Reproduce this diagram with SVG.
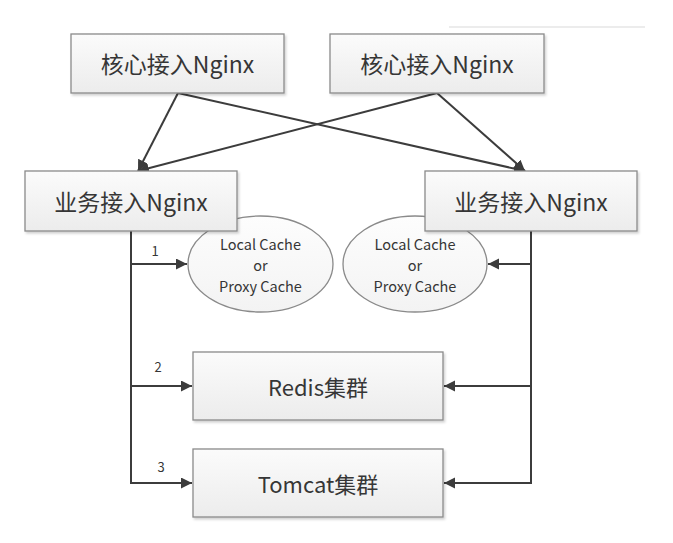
<svg xmlns="http://www.w3.org/2000/svg" width="673" height="543" viewBox="0 0 673 543">
  <style>
    .box { fill: url(#boxGrad); stroke: #8a8a8a; stroke-width: 1.3; filter: url(#shadow); }
    .ell { fill: url(#ellGrad); stroke: #8a8a8a; stroke-width: 1.3; }
    .t { font-family: "Noto Sans CJK SC", "Noto Sans", sans-serif; fill: #363636; text-anchor: middle; dominant-baseline: central; }
    .big { font-size: 23px; }
    .mid { font-size: 22px; }
    .small { font-size: 14.5px; }
    .num { font-size: 13px; }
    .conn { fill: none; stroke: #3c3c3c; stroke-width: 2; }
  </style>
  <defs>
    <linearGradient id="boxGrad" x1="0" y1="0" x2="0" y2="1">
      <stop offset="0" stop-color="#fbfbfb"/>
      <stop offset="1" stop-color="#ececec"/>
    </linearGradient>
    <linearGradient id="ellGrad" x1="0" y1="0" x2="0" y2="1">
      <stop offset="0" stop-color="#fdfdfd"/>
      <stop offset="1" stop-color="#f3f3f3"/>
    </linearGradient>
    <filter id="shadow" x="-10%" y="-10%" width="130%" height="140%">
      <feDropShadow dx="1.5" dy="2" stdDeviation="1.2" flood-color="#000000" flood-opacity="0.18"/>
    </filter>
    <marker id="arrow" markerUnits="userSpaceOnUse" markerWidth="12" markerHeight="12" refX="11" refY="5.5" orient="auto">
      <path d="M0,0 L11,5.5 L0,11 z" fill="#3c3c3c"/>
    </marker>
  </defs>
  <rect width="673" height="543" fill="#ffffff"/>
  <line x1="449" y1="27" x2="645" y2="27" stroke="#e6e6e6" stroke-width="1.5"/>

  <g id="connectors">
    <line class="conn" x1="178" y1="93" x2="138" y2="171" marker-end="url(#arrow)"/>
    <line class="conn" x1="437" y1="93" x2="138" y2="171" marker-end="url(#arrow)"/>
    <line class="conn" x1="178" y1="93" x2="525" y2="171" marker-end="url(#arrow)"/>
    <line class="conn" x1="437" y1="93" x2="525" y2="171" marker-end="url(#arrow)"/>
    <path class="conn" d="M131,231 V483 H192" marker-end="url(#arrow)"/>
    <path class="conn" d="M131,264 H187" marker-end="url(#arrow)"/>
    <path class="conn" d="M131,386 H192" marker-end="url(#arrow)"/>
    <path class="conn" d="M531,231 V483 H444" marker-end="url(#arrow)"/>
    <path class="conn" d="M531,264 H488" marker-end="url(#arrow)"/>
    <path class="conn" d="M531,386 H444" marker-end="url(#arrow)"/>
    <text class="t num" x="155" y="250">1</text>
    <text class="t num" x="158" y="366">2</text>
    <text class="t num" x="161" y="466">3</text>
  </g>

  <g id="cache-left">
    <ellipse class="ell" cx="260.5" cy="264" rx="72.5" ry="48"/>
    <text class="t small" x="260.5" y="243">Local Cache</text>
    <text class="t small" x="260.5" y="264">or</text>
    <text class="t small" x="260.5" y="285">Proxy Cache</text>
  </g>
  <g id="cache-right">
    <ellipse class="ell" cx="415" cy="264" rx="72" ry="48"/>
    <text class="t small" x="415" y="243">Local Cache</text>
    <text class="t small" x="415" y="264">or</text>
    <text class="t small" x="415" y="285">Proxy Cache</text>
  </g>

  <g id="core-nginx-left">
    <rect class="box" x="71" y="34" width="213" height="59"/>
    <text class="t big" x="177.5" y="63">核心接入Nginx</text>
  </g>
  <g id="core-nginx-right">
    <rect class="box" x="330" y="34" width="214" height="59"/>
    <text class="t big" x="437" y="63">核心接入Nginx</text>
  </g>
  <g id="biz-nginx-left">
    <rect class="box" x="25" y="171" width="212" height="60"/>
    <text class="t big" x="131" y="201">业务接入Nginx</text>
  </g>
  <g id="biz-nginx-right">
    <rect class="box" x="425" y="171" width="212" height="60"/>
    <text class="t big" x="531" y="201">业务接入Nginx</text>
  </g>
  <g id="redis">
    <rect class="box" x="193" y="352" width="250" height="68"/>
    <text class="t mid" x="318" y="386">Redis集群</text>
  </g>
  <g id="tomcat">
    <rect class="box" x="193" y="449" width="250" height="68"/>
    <text class="t mid" x="318" y="483">Tomcat集群</text>
  </g>
</svg>
